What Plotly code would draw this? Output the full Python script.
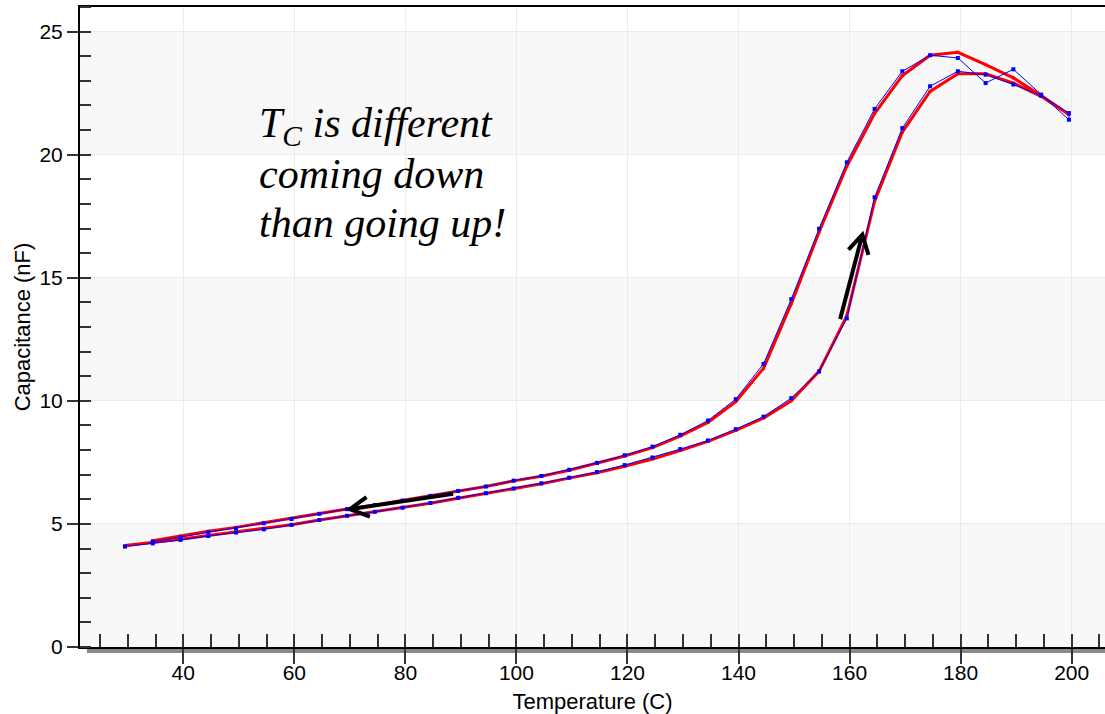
import plotly.graph_objects as go

# ---- data ----
temp_heating = [29.5, 34.5, 39.5, 44.5, 49.5, 54.5, 59.5, 64.5, 69.5, 74.5,
                79.5, 84.5, 89.5, 94.5, 99.5, 104.5, 109.5, 114.5, 119.5, 124.5,
                129.5, 134.5, 139.5, 144.5, 149.5, 154.5, 159.5, 164.5, 169.5, 174.5,
                179.5, 184.5, 189.5, 194.5, 199.5]
cap_heating_red = [4.12, 4.24, 4.38, 4.53, 4.67, 4.80, 4.97, 5.16, 5.33, 5.50,
                   5.66, 5.84, 6.04, 6.23, 6.42, 6.63, 6.86, 7.08, 7.34, 7.64,
                   7.98, 8.35, 8.80, 9.30, 10.00, 11.20, 13.45, 18.10, 20.92, 22.57,
                   23.29, 23.29, 22.91, 22.37, 21.63]
cap_heating_blue = [4.08, 4.21, 4.35, 4.51, 4.65, 4.78, 4.96, 5.16, 5.33, 5.49,
                    5.66, 5.85, 6.06, 6.25, 6.44, 6.65, 6.88, 7.11, 7.39, 7.70,
                    8.04, 8.39, 8.85, 9.36, 10.11, 11.19, 13.35, 18.27, 21.08, 22.78,
                    23.39, 23.25, 22.85, 22.40, 21.69]

temp_cooling = [199.5, 194.5, 189.5, 184.5, 179.5, 174.5, 169.5, 164.5, 159.5, 154.5,
                149.5, 144.5, 139.5, 134.5, 129.5, 124.5, 119.5, 114.5, 109.5, 104.5,
                99.5, 94.5, 89.5, 84.5, 79.5, 74.5, 69.5, 64.5, 59.5, 54.5,
                49.5, 44.5, 39.5, 34.5]
cap_cooling_red = [21.63, 22.40, 23.12, 23.66, 24.16, 24.04, 23.21, 21.67, 19.53, 16.85,
                   13.95, 11.32, 9.97, 9.12, 8.57, 8.10, 7.76, 7.46, 7.18, 6.94,
                   6.75, 6.52, 6.33, 6.13, 5.95, 5.77, 5.61, 5.42, 5.22, 5.06,
                   4.86, 4.70, 4.50, 4.32]
cap_cooling_blue = [21.42, 22.44, 23.47, 22.91, 23.93, 24.04, 23.39, 21.86, 19.69, 16.99,
                    14.13, 11.50, 10.07, 9.20, 8.62, 8.14, 7.79, 7.48, 7.20, 6.95,
                    6.76, 6.52, 6.34, 6.14, 5.95, 5.77, 5.60, 5.41, 5.20, 5.03,
                    4.82, 4.66, 4.46, 4.28]

x_ticks = [40, 60, 80, 100, 120, 140, 160, 180, 200]
y_ticks = [0, 5, 10, 15, 20, 25]
x_range = [21.4, 206.0]
y_range = [0, 26]

fig = go.Figure()

fig.add_trace(go.Scatter(
    x=temp_heating + temp_cooling,
    y=cap_heating_red + cap_cooling_red,
    mode="lines+markers",
    line=dict(color="#ff0000", width=3),
    marker=dict(color="#ff0000", size=3, symbol="square", line=dict(width=0)),
    showlegend=False,
))
fig.add_trace(go.Scatter(
    x=temp_heating + temp_cooling,
    y=cap_heating_blue + cap_cooling_blue,
    mode="lines+markers",
    line=dict(color="#0000ff", width=1),
    marker=dict(color="#0000ff", size=4, symbol="square", line=dict(width=0)),
    showlegend=False,
))

shapes = []
# alternating background bands
for lo in [0, 10, 20]:
    shapes.append(dict(type="rect", xref="paper", yref="y", x0=0, x1=1, y0=lo, y1=lo + 5,
                       fillcolor="#f8f8f8", line=dict(width=0), layer="below"))
# drop shadow under x axis
shapes.append(dict(type="rect", xref="paper", yref="paper", x0=0.0068, x1=1.0,
                   y0=-0.0094, y1=-0.0016, fillcolor="#8a8a8a", line=dict(width=0),
                   layer="below"))
# arrows (open heads)
arrow_style = dict(color="black", width=4)
shapes.append(dict(type="path", xref="x", yref="y",
                   path="M 88.6 6.22 L 70.0 5.60 M 73.0 6.09 L 70.0 5.60 L 73.6 5.30",
                   line=arrow_style))
shapes.append(dict(type="path", xref="x", yref="y",
                   path="M 158.3 13.32 L 162.3 16.75 M 159.8 16.14 L 162.3 16.75 L 163.4 15.93",
                   line=arrow_style))

text_font = dict(family="Liberation Serif", size=42, color="black")
annotations = []
lines = ["<i>T<sub>C</sub> is different</i>", "<i>coming down</i>", "<i>than going up!</i>"]
ys = [21.15, 19.22, 17.22]
for t, yy in zip(lines, ys):
    annotations.append(dict(text=t, x=53.3, y=yy, xref="x", yref="y",
                            xanchor="left", yanchor="middle", showarrow=False,
                            font=text_font))

fig.update_layout(
    width=1105, height=714,
    margin=dict(l=80, r=0, t=7, b=67, autoexpand=False),
    paper_bgcolor="white",
    plot_bgcolor="white",
    shapes=shapes,
    annotations=annotations,
    font=dict(family="Liberation Sans, Arial", size=21, color="black"),
)

fig.update_xaxes(
    range=x_range, tickvals=x_ticks, ticktext=[str(v) for v in x_ticks],
    showline=True, linecolor="black", linewidth=2, mirror=True,
    ticks="outside", ticklen=15, tickwidth=1.5, tickcolor="#333333",
    ticklabelstandoff=-9,
    showgrid=True, gridcolor="#ebebeb", gridwidth=1,
    zeroline=False, automargin=False,
    tickfont=dict(size=21),
    title=dict(text="Temperature (C)", font=dict(size=22), standoff=10),
    minor=dict(dtick=5, tick0=0, ticks="inside", ticklen=13, tickwidth=1.5,
               tickcolor="#333333", showgrid=False),
)
fig.update_yaxes(
    range=y_range, tickvals=y_ticks, ticktext=[str(v) for v in y_ticks],
    showline=True, linecolor="black", linewidth=2,
    ticks="outside", ticklen=11, tickwidth=1.5, tickcolor="#333333",
    showgrid=True, gridcolor="#ebebeb", gridwidth=1,
    zeroline=False, automargin=False,
    tickfont=dict(size=21),
    title=dict(text="Capacitance (nF)", font=dict(size=22), standoff=3),
    minor=dict(dtick=1, tick0=0, ticks="inside", ticklen=11, tickwidth=1.5,
               tickcolor="#333333", showgrid=False),
)

fig.write_html("out.html")
